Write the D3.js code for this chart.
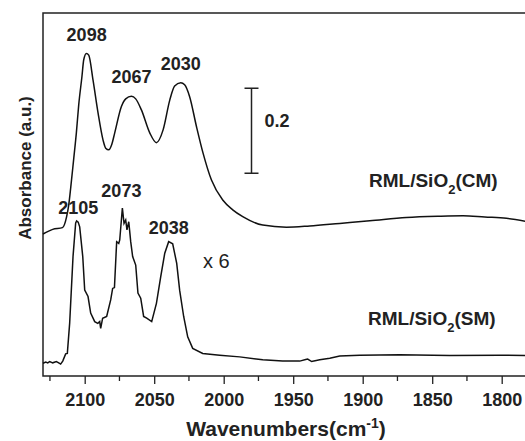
<!DOCTYPE html>
<html>
<head>
<meta charset="utf-8">
<script src="https://cdn.jsdelivr.net/npm/d3@7"></script>
<style>
  body { margin: 0; background: #fff; }
  svg { display: block; font-family: "Liberation Sans", Arial, sans-serif; }
</style>
</head>
<body>
<div id="chart"></div>
<script>
// spectrum of RML/SiO2(CM): wavenumber (cm-1) and absorbance
var cmWave = [2130, 2123, 2116, 2113, 2111.5, 2110, 2108, 2106, 2104.3, 2102, 2100.7, 2098.8, 2097.1, 2094, 2090.4,
  2086.8, 2084.9, 2082.7, 2080.6, 2078.4, 2073.6, 2070.5, 2066.4, 2063.3, 2059.2, 2053.2, 2048.4, 2043.6, 2038.8,
  2035.3, 2030.9, 2028.1, 2024.5, 2019.6, 2014.9, 2008.8, 2000.7, 1993.5, 1986.3, 1971.9, 1954.9, 1938.1, 1916.5,
  1894.9, 1868.6, 1844.6, 1827.8, 1812.2, 1796.6, 1780];
var cmAbs = [0.334, 0.345, 0.349, 0.375, 0.402, 0.445, 0.508, 0.572, 0.638, 0.704, 0.744, 0.759, 0.755, 0.696, 0.619,
  0.555, 0.536, 0.532, 0.544, 0.572, 0.634, 0.652, 0.658, 0.652, 0.626, 0.572, 0.549, 0.579, 0.649,
  0.682, 0.690, 0.685, 0.657, 0.587, 0.525, 0.461, 0.414, 0.391, 0.375, 0.355, 0.350, 0.353, 0.359,
  0.365, 0.373, 0.376, 0.377, 0.374, 0.371, 0.362];

// spectrum of RML/SiO2(SM), x 6
var smWave = [2130, 2128, 2126.6, 2125.2, 2123, 2120.4, 2118.7, 2117.3, 2115.8, 2113.7, 2112.5, 2110.8, 2108.4, 2106.5,
  2105.8, 2104.7, 2103.6, 2101.4, 2100, 2097.6, 2095.7, 2092.8, 2090.6, 2089.2, 2088.5, 2087.1, 2084.2, 2081.3,
  2079.9, 2078.6, 2077, 2075.5, 2074.8, 2072.9, 2071.7, 2070.5, 2069.6, 2068.3, 2066.9, 2065.5, 2063.3, 2061.7,
  2059.7, 2057.6, 2055.4, 2051.8, 2048.4, 2045.3, 2042.4, 2039.6, 2036.7, 2033.8, 2031.7, 2028.8, 2025.9, 2022.3,
  2015.1, 2002.9, 1988.5, 1971.9, 1957.6, 1945.3, 1941, 1939.6, 1936.7, 1930.9, 1923.7, 1916.5, 1902.2, 1873.4,
  1837.4, 1801.4, 1780];
var smAbs = [0.030, 0.033, 0.031, 0.034, 0.031, 0.034, 0.031, 0.028, 0.035, 0.052, 0.053, 0.125, 0.281, 0.360,
  0.365, 0.362, 0.351, 0.281, 0.202, 0.187, 0.148, 0.128, 0.124, 0.128, 0.112, 0.136, 0.140, 0.179,
  0.206, 0.208, 0.316, 0.312, 0.320, 0.395, 0.359, 0.367, 0.344, 0.363, 0.316, 0.281, 0.261, 0.195,
  0.183, 0.140, 0.136, 0.128, 0.171, 0.234, 0.289, 0.316, 0.311, 0.265, 0.202, 0.140, 0.092, 0.065,
  0.053, 0.049, 0.045, 0.038, 0.035, 0.035, 0.039, 0.040, 0.034, 0.038, 0.042, 0.047, 0.049, 0.050,
  0.048, 0.049, 0.048];

var majorTicks = [2100, 2050, 2000, 1950, 1900, 1850, 1800];
var minorTicks = [2125, 2075, 2025, 1975, 1925, 1875, 1825];

// peak annotations: label, wavenumber, absorbance of label baseline
var peakText = ["2098", "2067", "2030", "2105", "2073", "2038"];
var peakWave = [2098.6, 2066.4, 2030.9, 2104.7, 2073.6, 2039.6];
var peakAbs = [0.787, 0.690, 0.720, 0.380, 0.422, 0.333];

var width = 525, height = 441;
var svg = d3.select("#chart").append("svg")
    .attr("width", width)
    .attr("height", height);

var x = d3.scaleLinear().domain([2130, 1780]).range([43, 529.5]);
var y = d3.scaleLinear().domain([0, 0.854]).range([376, 13]);

// frame (right side falls outside the picture)
svg.append("path")
    .attr("d", "M" + x(1780) + "," + y(0.854) + "H" + x(2130) + "V" + y(0) + "H" + x(1780))
    .attr("fill", "none")
    .attr("stroke", "#222")
    .attr("stroke-width", 1.5);

// bottom axis
var xAxis = svg.append("g")
    .attr("transform", "translate(0," + y(0) + ")")
    .call(d3.axisBottom(x).tickValues(majorTicks).tickSize(8).tickPadding(9).tickFormat(d3.format("d")));
xAxis.select(".domain").remove();
xAxis.selectAll("line").attr("stroke", "#222").attr("stroke-width", 1.3);
xAxis.selectAll("text")
    .attr("fill", "#222")
    .style("font-size", "18px")
    .style("font-weight", "bold");

svg.append("g").selectAll("line")
    .data(minorTicks)
  .enter().append("line")
    .attr("x1", function(d) { return x(d); })
    .attr("x2", function(d) { return x(d); })
    .attr("y1", y(0))
    .attr("y2", y(0) + 5)
    .attr("stroke", "#222")
    .attr("stroke-width", 1.3);

var xTitle = svg.append("text")
    .attr("x", 286)
    .attr("y", 436)
    .attr("text-anchor", "middle")
    .style("font-size", "21px")
    .style("font-weight", "bold")
    .attr("fill", "#222");
xTitle.append("tspan").text("Wavenumbers(cm");
xTitle.append("tspan").attr("dy", -8).style("font-size", "14px").text("-1");
xTitle.append("tspan").attr("dy", 8).text(")");

svg.append("text")
    .attr("transform", "translate(31,168) rotate(-90)")
    .attr("text-anchor", "middle")
    .style("font-size", "17px")
    .style("font-weight", "bold")
    .attr("fill", "#222")
    .text("Absorbance (a.u.)");

// spectra
var line = d3.line()
    .x(function(d) { return x(d[0]); })
    .y(function(d) { return y(d[1]); });

svg.append("path")
    .datum(d3.zip(cmWave, cmAbs))
    .attr("fill", "none")
    .attr("stroke", "#111")
    .attr("stroke-width", 1.5)
    .attr("d", line.curve(d3.curveMonotoneX));

svg.append("path")
    .datum(d3.zip(smWave, smAbs))
    .attr("fill", "none")
    .attr("stroke", "#111")
    .attr("stroke-width", 1.5)
    .attr("d", line.curve(d3.curveLinear));

// peak labels
svg.selectAll(".peak")
    .data(d3.range(peakText.length))
  .enter().append("text")
    .attr("class", "peak")
    .attr("x", function(i) { return x(peakWave[i]); })
    .attr("y", function(i) { return y(peakAbs[i]); })
    .attr("text-anchor", "middle")
    .style("font-size", "18px")
    .style("font-weight", "bold")
    .attr("fill", "#222")
    .text(function(i) { return peakText[i]; });

// scale bar 0.2
var barX = x(1980), barLo = 0.477;
var bar = svg.append("g").attr("stroke", "#222").attr("stroke-width", 1.5);
bar.append("line").attr("x1", barX).attr("x2", barX).attr("y1", y(barLo)).attr("y2", y(barLo + 0.2));
bar.append("line").attr("x1", barX - 7).attr("x2", barX + 7).attr("y1", y(barLo)).attr("y2", y(barLo));
bar.append("line").attr("x1", barX - 7).attr("x2", barX + 7).attr("y1", y(barLo + 0.2)).attr("y2", y(barLo + 0.2));

svg.append("text")
    .attr("x", barX + 13)
    .attr("y", 127)
    .style("font-size", "18px")
    .style("font-weight", "bold")
    .attr("fill", "#222")
    .text("0.2");

svg.append("text")
    .attr("x", 203)
    .attr("y", 268)
    .style("font-size", "20px")
    .attr("fill", "#222")
    .text("x 6");

// sample names
function sampleLabel(xp, yp, tail) {
  var t = svg.append("text")
      .attr("x", xp)
      .attr("y", yp)
      .style("font-size", "19px")
      .style("font-weight", "bold")
      .attr("fill", "#222");
  t.append("tspan").text("RML/SiO");
  t.append("tspan").attr("dy", 7).style("font-size", "13px").text("2");
  t.append("tspan").attr("dy", -7).text(tail);
}
sampleLabel(369, 187, "(CM)");
sampleLabel(368, 325, "(SM)");
</script>
</body>
</html>
